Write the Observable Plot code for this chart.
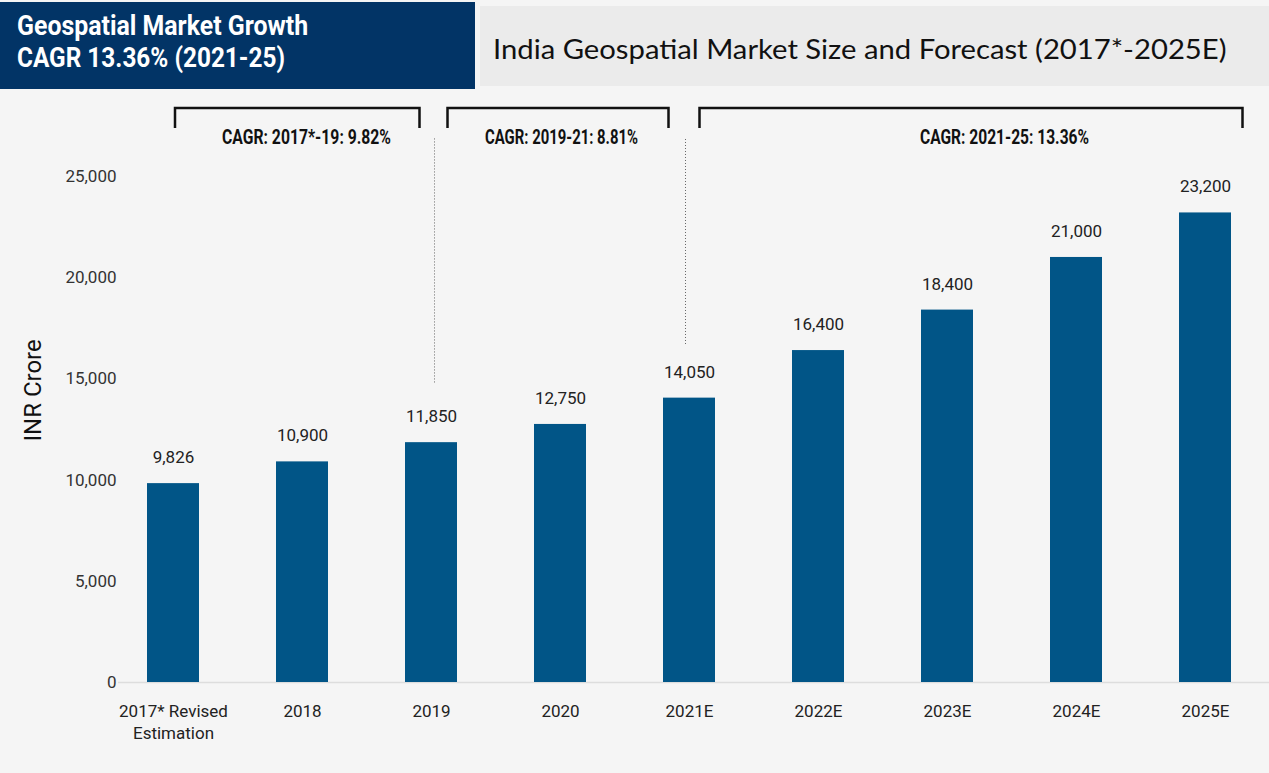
<!DOCTYPE html>
<html>
<head>
<meta charset="utf-8">
<script src="https://cdn.jsdelivr.net/npm/d3@7"></script>
<script src="https://cdn.jsdelivr.net/npm/@observablehq/plot@0.6"></script>
<style>
  html, body { margin: 0; padding: 0; background: #ffffff; }
  #page { position: relative; width: 1269px; height: 773px; background: #f5f5f5; overflow: hidden; }
  #badge { position: absolute; left: 0; top: 2px; width: 475px; height: 87px; background: #023466; color: #fff;
    font-family: Roboto, sans-serif; font-weight: bold; font-size: 27px; line-height: 28px; white-space: nowrap; }
  #badge span { position: absolute; left: 17px; display: inline-block; transform-origin: 0 0; }
  #title { position: absolute; left: 480px; top: 6px; width: 789px; height: 80px; background: #ebebeb; color: #111; white-space: nowrap; }
  #title span { position: absolute; left: 13px; top: 27px; display: inline-block; transform-origin: 0 0;
    font-family: Lato, "Open Sans", sans-serif; font-size: 27px; line-height: 32px; }
  #chart { position: absolute; left: 0; top: 90px; }
</style>
</head>
<body>
<div id="page">
  <div id="badge"><span id="b1" style="top:10px">Geospatial Market Growth</span><span id="b2" style="top:42px">CAGR 13.36% (2021-25)</span></div>
  <div id="title"><span id="t1">India Geospatial Market Size and Forecast (2017*-2025E)</span></div>
  <div id="chart"></div>
</div>
<script>
const categories = ["2017* Revised\nEstimation", "2018", "2019", "2020", "2021E", "2022E", "2023E", "2024E", "2025E"];
const values = [9826, 10900, 11850, 12750, 14050, 16400, 18400, 21000, 23200];
const yTicks = [0, 5000, 10000, 15000, 20000, 25000];
const yLabel = "INR Crore";

const cagrLabels = ["CAGR: 2017*-19: 9.82%", "CAGR: 2019-21: 8.81%", "CAGR: 2021-25: 13.36%"];
const cagrAnchor = ["2018", "2020", "2023E"];
const bracketFrom = ["2017* Revised\nEstimation", "2019", "2021E"];
const bracketTo = ["2019", "2021E", "2025E"];
const dividerAt = ["2019", "2021E"];
const dividerFrom = [14800, 16700];
const dividerTo = [26900, 26900];

const data = categories.map((c, i) => ({category: c, value: values[i]}));
const fmt = d3.format(",");

const bracketTop = 28360, bracketTick = 27372, labelLevel = 26950;
const labelDx = [4, 1, 57];
const labelWidths = [169, 153, 169];
const divDx = [3, -4];

// condense header texts to the reference widths
function fitWidth(id, w) {
  const el = document.getElementById(id);
  el.style.transform = `scaleX(${w / el.offsetWidth})`;
}
fitWidth("b1", 291);
fitWidth("b2", 268);
fitWidth("t1", 733);

const plot = Plot.plot({
  width: 1269,
  height: 683,
  marginLeft: 118,
  marginRight: 0,
  marginTop: 86,
  marginBottom: 91,
  style: {background: "transparent", fontFamily: "Roboto, sans-serif", fontSize: "17px", color: "#222", overflow: "visible"},
  x: {domain: categories, paddingInner: 0.6, paddingOuter: 0.25, align: 0.43, label: null},
  y: {domain: [0, 25000], label: null},
  marks: [
    Plot.ruleY([0], {stroke: "#dddddd", strokeWidth: 1.5}),
    Plot.barY(data, {x: "category", y: "value", fill: "#015587"}),
    Plot.text(data, {x: "category", y: "value", text: d => fmt(d.value), dy: -26, fill: "#222", fontSize: 17}),
    Plot.axisY({ticks: yTicks, tickFormat: fmt, tickSize: 0, tickPadding: 2, fill: "#333", fontSize: 17, label: null}),
    Plot.axisX({tickSize: 0, tickPadding: 19, fill: "#222", fontSize: 17, lineHeight: 1.3, label: null}),
    Plot.text([yLabel], {frameAnchor: "left", rotate: -90, dx: -85, dy: 12, fontSize: 24, fill: "#111", fontFamily: "Roboto, sans-serif"}),
    ...dividerAt.map((c, i) => Plot.ruleX([c], {y1: dividerFrom[i], y2: dividerTo[i], dx: divDx[i], stroke: "#666", strokeWidth: 1, strokeDasharray: "1,2"})),
    ...cagrLabels.map((t, i) => Plot.text([t], {x: () => cagrAnchor[i], y: () => labelLevel, dx: labelDx[i], fontFamily: "Roboto, sans-serif", fontWeight: "bold", fontSize: 21, fill: "#111"}))
  ]
});

document.getElementById("chart").appendChild(plot);

const svg = d3.select(plot);
// condensed look for CAGR labels
svg.selectAll("text").filter(function () { return cagrLabels.includes(this.textContent); })
  .each(function () {
    const i = cagrLabels.indexOf(this.textContent);
    d3.select(this).attr("textLength", labelWidths[i]).attr("lengthAdjust", "spacingAndGlyphs");
  });

// brackets positioned through the plot's own scales
const xs = plot.scale("x"), ys = plot.scale("y");
const center = c => xs.apply(c) + xs.bandwidth / 2;
const endOffsets = [[2, -11.5], [16.5, -20.5], [10.5, 37.5]];
bracketFrom.forEach((f, i) => {
  const x1 = center(f) + endOffsets[i][0];
  const x2 = center(bracketTo[i]) + endOffsets[i][1];
  const yt = ys.apply(bracketTop), yb = ys.apply(bracketTick);
  svg.append("path")
    .attr("d", `M${x1},${yb}V${yt}H${x2}V${yb}`)
    .attr("fill", "none").attr("stroke", "#111").attr("stroke-width", 2.5);
});
</script>
</body>
</html>
